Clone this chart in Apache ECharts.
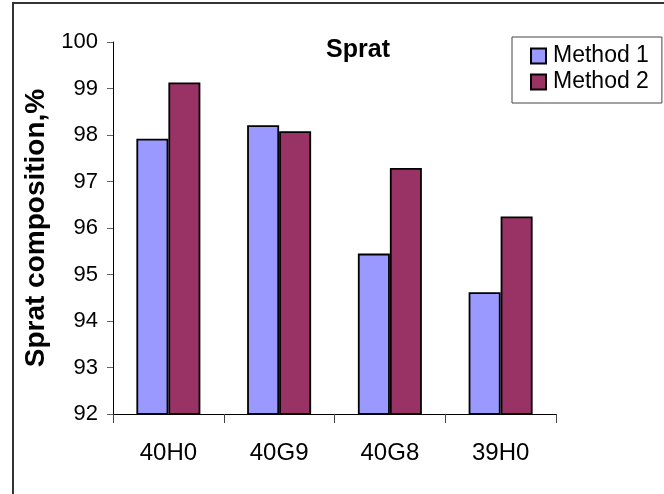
<!DOCTYPE html>
<html>
<head>
<meta charset="utf-8">
<script src="https://cdn.jsdelivr.net/npm/echarts@6/dist/echarts.min.js"></script>
<style>
html,body{margin:0;padding:0;background:#fff;}
#c{width:664px;height:494px;}
</style>
</head>
<body>
<div id="c"></div>
<script>
var categories = ['40H0', '40G9', '40G8', '39H0'];
var method1 = [97.92, 98.21, 95.45, 94.62];
var method2 = [99.13, 98.08, 97.29, 96.25];
var seriesNames = ['Method 1', 'Method 2'];
var yMin = 92, yMax = 100, yStep = 1;

var FONT = 'Liberation Sans, Arial, sans-serif';
var chart = echarts.init(document.getElementById('c'), null, {renderer: 'canvas'});
chart.setOption({
  animation: false,
  backgroundColor: '#fff',
  textStyle: {fontFamily: FONT},
  graphic: [{
    type: 'rect', silent: true, z: 0,
    shape: {x: 13, y: 3, width: 700, height: 600},
    style: {fill: 'none', stroke: '#333', lineWidth: 2}
  }],
  title: {
    text: 'Sprat', left: 353, top: 33, textAlign: 'center',
    textStyle: {fontFamily: FONT, fontSize: 25, fontWeight: 'bold', color: '#000'}
  },
  legend: {
    orient: 'vertical', left: 512, top: 37,
    padding: [7, 13, 9, 18], itemGap: 2,
    itemWidth: 15, itemHeight: 15, icon: 'rect',
    borderColor: '#444', borderWidth: 1,
    textStyle: {fontFamily: FONT, fontSize: 23, color: '#000', lineHeight: 24, padding: [0, 0, 0, 2]},
    data: seriesNames
  },
  grid: {left: 113, top: 42, right: 108, bottom: 80, containLabel: false},
  xAxis: {
    type: 'category', data: categories,
    axisLine: {lineStyle: {color: '#000', width: 1}},
    axisTick: {show: true, length: 9, lineStyle: {color: '#444'}},
    axisLabel: {fontFamily: FONT, fontSize: 24, color: '#000', margin: 27}
  },
  yAxis: {
    type: 'value', min: yMin, max: yMax, interval: yStep,
    name: 'Sprat composition,%', nameLocation: 'middle', nameRotate: 90, nameGap: 63,
    nameTextStyle: {fontFamily: FONT, fontSize: 28, fontWeight: 'bold', color: '#000'},
    axisLine: {show: true, lineStyle: {color: '#000', width: 1}},
    axisTick: {show: true, length: 6, lineStyle: {color: '#666'}},
    axisLabel: {fontFamily: FONT, fontSize: 22, color: '#000', margin: 15},
    splitLine: {show: false}
  },
  series: [{
    name: seriesNames[0], type: 'bar', data: method1,
    barWidth: 32, barGap: '0%',
    itemStyle: {color: '#9999FF', borderColor: '#000', borderWidth: 1.8}
  }, {
    name: seriesNames[1], type: 'bar', data: method2,
    barWidth: 32, barGap: '0%',
    itemStyle: {color: '#993366', borderColor: '#000', borderWidth: 1.8}
  }]
});
</script>
</body>
</html>
